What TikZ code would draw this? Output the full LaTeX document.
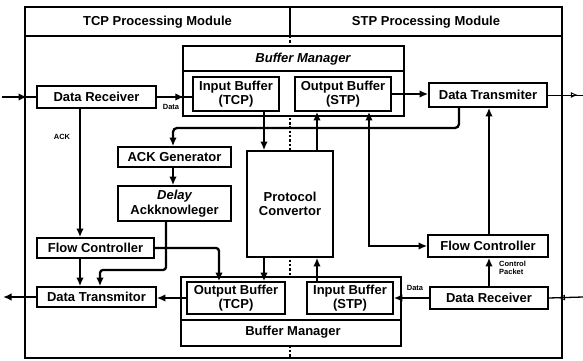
\documentclass[tikz,border=0pt]{standalone}
\usepackage{fontspec}
\setmainfont{Liberation Sans}
\usetikzlibrary{arrows.meta,decorations.markings,calc}
\begin{document}
\begin{tikzpicture}[x=1pt,y=-1pt,
  box/.style={draw, line width=1.7pt, fill=white, inner sep=0pt, align=center,
    font=\fontsize{13}{14.5}\selectfont\bfseries},
  plain/.style={inner sep=0pt, align=center, font=\fontsize{13}{14.5}\selectfont\bfseries},
  small/.style={inner sep=0pt, align=left, font=\fontsize{7.5}{8.5}\selectfont\bfseries},
  conn/.style={line width=2.3pt},
  tip/.tip={Latex[length=8.5pt,width=7.5pt]},
  arr/.style={conn, -tip},
  midarr/.style={postaction={decorate}, decoration={markings, mark=at position #1 with {\arrow{tip}}}},
  openarr/.style={postaction={decorate}, decoration={markings, mark=at position #1 with {\arrow{Latex[open,length=7pt,width=6pt,line width=0.9pt]}}}},
  dline/.style={line width=1.1pt, dash pattern=on 2.5pt off 1.8pt},
]
\useasboundingbox (0,0) rectangle (583,361);

% frame
\coordinate (fNW) at (25,7);
\coordinate (fSE) at (562,358);
\coordinate (hL) at (25,36);
\coordinate (hR) at (562,36);
\coordinate (dTop) at (290,7);
\coordinate (dMid) at (290,36);
\coordinate (dBot) at (290,358);
\draw[dline] (dMid) -- (dBot);
\draw[line width=1.4pt] (fNW) rectangle (fSE);
\draw[line width=1.4pt] (hL) -- (hR);
\draw[line width=1.4pt] (dTop) -- (dMid);
\node[plain] (tcp) at (157.5,22) {TCP Processing Module};
\node[plain] (stp) at (426,22) {STP Processing Module};

% upper buffer manager
\node[box, minimum width=221pt, minimum height=70pt] (BMU) at (293.5,81) {};
\draw[line width=1.5pt] ($(BMU.north west)+(0,26)$) -- ($(BMU.north east)+(0,26)$);
\node[plain, font=\fontsize{13}{14.5}\selectfont\bfseries\itshape] (BMUt) at (303,59) {Buffer Manager};
\node[box, minimum width=86pt, minimum height=34pt] (IBT) at (236,94) {Input Buffer\\(TCP)};
\node[box, minimum width=96pt, minimum height=34pt] (OBS) at (343,94) {Output Buffer\\(STP)};

% lower buffer manager
\node[box, minimum width=220pt, minimum height=69pt] (BML) at (291,311.5) {};
\draw[line width=1.5pt] ($(BML.south west)+(0,-27)$) -- ($(BML.south east)+(0,-27)$);
\node[plain] (BMLt) at (293,332) {Buffer Manager};
\node[box, minimum width=98pt, minimum height=32pt] (OBT) at (236,298) {Output Buffer\\(TCP)};
\node[box, minimum width=86pt, minimum height=32pt] (IBS) at (350,298) {Input Buffer\\(STP)};

% other boxes
\node[box, minimum width=119pt, minimum height=22pt] (DRL) at (96.5,97) {Data Receiver};
\node[box, minimum width=118pt, minimum height=24pt] (DTR) at (488,95) {Data Transmiter};
\node[box, minimum width=113pt, minimum height=20pt] (ACKG) at (174.5,157) {ACK Generator};
\node[box, minimum width=113pt, minimum height=35pt] (Delay) at (174.5,203.5) {\itshape Delay\\Ackknowleger};
\node[box, minimum width=86pt, minimum height=106pt] (PC) at (290,204) {Protocol\\Convertor};
\node[box, minimum width=117pt, minimum height=20pt] (FCL) at (95.5,248) {Flow Controller};
\node[box, minimum width=119pt, minimum height=20pt] (DTL) at (96.5,297) {Data Transmitor};
\node[box, minimum width=120pt, minimum height=22pt] (FCR) at (488,246) {Flow Controller};
\node[box, minimum width=118pt, minimum height=22pt] (DRR) at (489,298) {Data Receiver};

% labels
\node[small] (lData1) at (171,106.5) {Data};
\node[small] (lAck) at (62,137) {ACK};
\node[small] (lData2) at (415,288) {Data};
\node[small, anchor=west] (lCP) at (499,268) {Control\\Packet};

% helper coordinates
\coordinate (inL) at (2,97);
\coordinate (outR) at (583,95);
\coordinate (inR) at (583,297);
\coordinate (outL) at (3,297);
\coordinate (busR) at (459,128);
\coordinate (busL) at (173,128);
\coordinate (ackx) at (80,0);
\coordinate (dl1) at (166,270);
\coordinate (dl2) at (100,270);
\coordinate (fc1) at (219,248);
\coordinate (c264) at (264,0);
\coordinate (c317) at (317,0);
\coordinate (c369) at (369,0);
\coordinate (c489) at (489,0);

% connectors
\draw[conn, midarr=25pt] (inL) -- (DRL.west);
\draw[conn, midarr=27pt] (DRL.east) -- (DRL.east -| IBT.west);
\draw[arr] (OBS.east) -- (OBS.east -| DTR.west);
\draw[line width=0.9pt, openarr=30pt] (DTR.east) -- (outR);
\draw[line width=1.3pt, openarr=25pt] (inR) -- (DRR.east);
\draw[arr, rounded corners=4pt] (DTR.south -| busR) -- (busR) -- (busL) -- (ACKG.north -| busL);
\draw[arr] (ACKG.south -| busL) -- (Delay.north -| busL);
\draw[arr] (DRL.south -| ackx) -- (FCL.north -| ackx);
\draw[arr] (FCL.south -| ackx) -- (DTL.north -| ackx);
\draw[arr, rounded corners=3pt] (Delay.south -| dl1) -- (dl1) -- (dl2) -- (DTL.north -| dl2);
\draw[arr, rounded corners=3pt] (FCL.east) -- (fc1) -- (OBT.north -| fc1);
\draw[arr] (IBT.south -| c264) -- (PC.north -| c264);
\draw[arr] (PC.south -| c264) -- (OBT.north -| c264);
\draw[arr] (PC.north -| c317) -- (OBS.south -| c317);
\draw[arr] (IBS.north -| c317) -- (PC.south -| c317);
\draw[conn, tip-tip] (OBS.south -| c369) -- (FCR.west -| c369) -- (FCR.west);
\draw[arr] (FCR.north -| c489) -- (DTR.south -| c489);
\draw[arr] (DRR.north -| c489) -- (FCR.south -| c489);
\draw[arr] (DRR.west) -- (DRR.west -| IBS.east);
\draw[arr] (OBT.west) -- (OBT.west -| DTL.east);
\draw[arr] (DTL.west) -- (outL);
\end{tikzpicture}
\end{document}
